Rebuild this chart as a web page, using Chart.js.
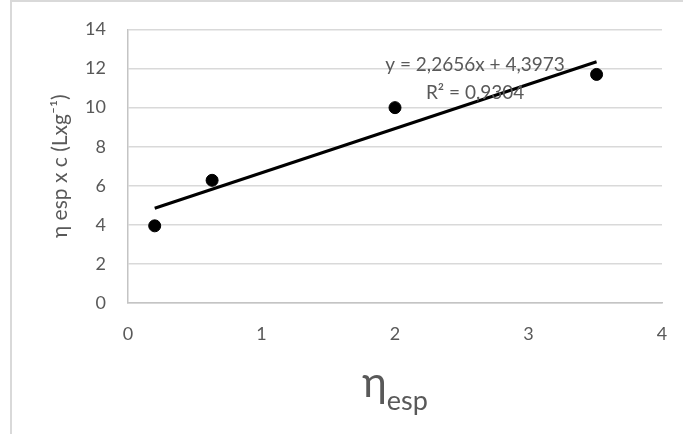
<!DOCTYPE html>
<html>
<head>
<meta charset="utf-8">
<script src="https://cdn.jsdelivr.net/npm/chart.js@4.4.0/dist/chart.umd.min.js"></script>
<style>
  html, body { margin: 0; padding: 0; background: #fff; }
  #frame {
    position: absolute; left: 10px; top: 0; width: 673px; height: 434px;
    border-left: 2px solid #d9d9d9; border-top: 2px solid #d9d9d9;
    box-sizing: border-box;
  }
  #wrap { position: absolute; left: 0; top: 0; width: 683px; height: 434px; }
</style>
</head>
<body>
<div id="frame"></div>
<div id="wrap"><canvas id="myChart" width="683" height="434"></canvas></div>
<script>
// measured points
let xValues = [0.2, 0.63, 2.0, 3.51];
let yValues = [3.95, 6.28, 10.0, 11.7];

// excel trendline as printed on the chart
const trendSlope = 2.2656;
const trendIntercept = 4.3973;
const trendText = ["y = 2,2656x + 4,3973", "R² = 0,9304"];

const xMin = 0, xMax = 4, xStep = 1;
const yMin = 0, yMax = 14, yStep = 2;

const yTitle = "η esp x c (Lxg⁻¹)";
const xTitleMain = "η";
const xTitleSub = "esp";

const textColor = "#595959";
const fontName = "Lato, 'Open Sans', sans-serif";

let points = xValues.map((x, i) => ({ x: x, y: yValues[i] }));
let lo = Math.min(...xValues), hi = Math.max(...xValues);
let trend = [
  { x: lo, y: trendSlope * lo + trendIntercept },
  { x: hi, y: trendSlope * hi + trendIntercept },
];

// equation label + x axis title with subscript
const extraText = {
  id: "extraText",
  afterDraw(chart) {
    const ctx = chart.ctx;
    const xs = chart.scales.x, ys = chart.scales.y;
    ctx.save();
    ctx.fillStyle = textColor;
    ctx.textAlign = "center";
    ctx.textBaseline = "middle";
    ctx.font = "19px " + fontName;
    ctx.fillText(trendText[0], xs.getPixelForValue(2.6), ys.getPixelForValue(12.17));
    ctx.fillText(trendText[1], xs.getPixelForValue(2.6), ys.getPixelForValue(10.74));

    // x title: big eta with small subscript
    const cx = (chart.chartArea.left + chart.chartArea.right) / 2;
    ctx.textBaseline = "alphabetic";
    ctx.textAlign = "left";
    ctx.font = "42px " + fontName;
    const w1 = ctx.measureText(xTitleMain).width;
    ctx.font = "27px " + fontName;
    const w2 = ctx.measureText(xTitleSub).width;
    const start = cx - (w1 + w2) / 2;
    ctx.font = "42px " + fontName;
    ctx.fillText(xTitleMain, start, 397);
    ctx.font = "27px " + fontName;
    ctx.fillText(xTitleSub, start + w1, 410);
    ctx.restore();
  },
};

const config = {
  type: "scatter",
  data: {
    datasets: [
      {
        label: "data",
        data: points,
        backgroundColor: "#000",
        borderColor: "#000",
        pointRadius: 6,
        pointHoverRadius: 6,
        order: 1,
      },
      {
        label: "trend",
        type: "line",
        data: trend,
        borderColor: "#000",
        borderWidth: 3,
        pointRadius: 0,
        fill: false,
        order: 2,
      },
    ],
  },
  options: {
    responsive: false,
    animation: false,
    layout: { padding: { top: 29.5, right: 21, bottom: 0, left: 0 } },
    plugins: {
      legend: { display: false },
      tooltip: { enabled: false },
    },
    scales: {
      x: {
        type: "linear",
        min: xMin,
        max: xMax,
        ticks: { stepSize: xStep, color: textColor, padding: 20, font: { family: fontName, size: 18 } },
        grid: { display: false, drawTicks: false },
        border: { display: true, color: "#c4c4c4", width: 1.5 },
        afterFit: (s) => { s.height = 131; s.paddingLeft = 0; s.paddingRight = 0; },
      },
      y: {
        min: yMin,
        max: yMax,
        ticks: { stepSize: yStep, color: textColor, padding: 22, font: { family: fontName, size: 18 } },
        grid: { color: "#d9d9d9", lineWidth: 1.5, drawTicks: false },
        border: { display: true, color: "#c4c4c4", width: 1.5 },
        title: {
          display: true,
          text: yTitle,
          color: textColor,
          font: { family: fontName, size: 21 },
          padding: { top: 48, bottom: 0 },
        },
        afterFit: (s) => { s.width = 128; s.paddingTop = 0; s.paddingBottom = 0; },
      },
    },
  },
  plugins: [extraText],
};

let myChart = new Chart(document.getElementById("myChart"), config);
</script>
</body>
</html>
